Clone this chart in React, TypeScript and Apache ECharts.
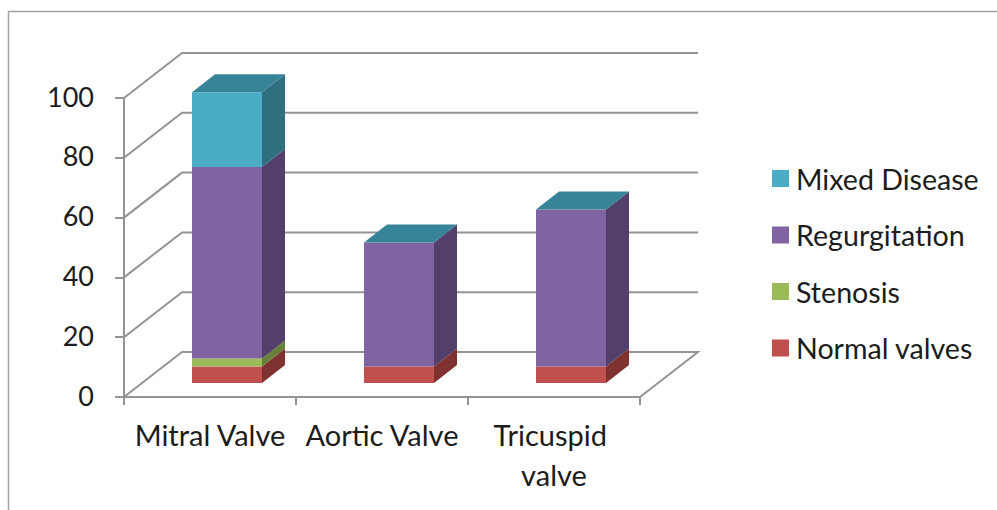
import React, { useEffect, useRef } from "react";
import * as echarts from "echarts";

const categories = ["Mitral Valve", "Aortic Valve", "Tricuspid valve"];
const normalValves = [5.5, 5.5, 5.5];
const stenosis = [2.7, 0, 0];
const regurgitation = [64, 41.5, 52.5];
const mixedDisease = [25, 0, 0];
const valueTicks = [0, 20, 40, 60, 80, 100];
const legendOrder = ["Mixed Disease", "Regurgitation", "Stenosis", "Normal valves"];

const FONT = "Lato";
const TEXT = "#1c1c1c";
const GRID_LINE = "#949494";

// Pixel offsets of the oblique projection: whole floor depth, gap in front of a bar, bar depth.
const FLOOR_DEPTH = [58, -45];
const BAR_FRONT = [17, -14];
const BAR_DEPTH = [23, -18];
const BAR_RATIO = 0.407;

type Shade = { front: string; side: string; top: string };

const shades: Record<string, Shade> = {
  normal: { front: "#C0504D", side: "#7F322F", top: "#9A403D" },
  stenosis: { front: "#9BBB59", side: "#67803A", top: "#7C9647" },
  regurgitation: { front: "#8064A2", side: "#533F6C", top: "#664F82" },
  mixed: { front: "#4BACC6", side: "#2F6F80", top: "#378397" },
};

const withBase = (values: number[], bases: number[][]) =>
  values.map((v, i) => [i, bases.reduce((sum, b) => sum + b[i], 0), v]);

// One stacked segment: front and side faces, plus the cap when asked for.
const barSegment = (shade: Shade, withTop: boolean) => (_params: any, api: any) => {
  const idx = api.value(0);
  const base = api.value(1);
  const val = api.value(2);
  const low = api.coord([idx, base]);
  const high = api.coord([idx, base + val]);
  const w = api.size([1, 0])[0] * BAR_RATIO;
  const l = low[0] + BAR_FRONT[0] - w / 2;
  const r = l + w;
  const yb = low[1] + BAR_FRONT[1];
  const yt = high[1] + BAR_FRONT[1];
  const [dx, dy] = BAR_DEPTH;
  const children: any[] = [];
  if (val > 0) {
    children.push({
      type: "polygon",
      shape: { points: [[l, yb], [r, yb], [r, yt], [l, yt]] },
      style: { fill: shade.front },
    });
    children.push({
      type: "polygon",
      shape: { points: [[r, yb], [r + dx, yb + dy], [r + dx, yt + dy], [r, yt]] },
      style: { fill: shade.side },
    });
  }
  if (withTop) {
    children.push({
      type: "polygon",
      shape: { points: [[l, yt], [r, yt], [r + dx, yt + dy], [l + dx, yt + dy]] },
      style: { fill: shade.top },
    });
  }
  return { type: "group", children };
};

// Side-wall diagonals and back-wall lines for each value tick, with the floor outline at zero.
const wallLines = (_params: any, api: any) => {
  const v = api.value(1);
  const band = api.size([1, 0])[0];
  const first = api.coord([0, v]);
  const last = api.coord([categories.length - 1, v]);
  const x0 = first[0] - band / 2;
  const x1 = last[0] + band / 2;
  const y = first[1];
  const [dx, dy] = FLOOR_DEPTH;
  const points = [[x0, y], [x0 + dx, y + dy], [x1 + dx, y + dy]];
  if (v === 0) points.push([x1, y]);
  return {
    type: "polyline",
    shape: { points },
    style: { stroke: GRID_LINE, lineWidth: 2, fill: "none" },
  };
};

const segmentSeries = (name: string, data: number[][], shade: Shade, withTop = false) => ({
  name,
  type: "custom",
  data,
  encode: { x: 0, y: [1, 2] },
  itemStyle: { color: shade.front },
  renderItem: barSegment(shade, withTop),
  z: 3,
});

export default function App() {
  const ref = useRef<HTMLDivElement>(null);

  useEffect(() => {
    const chart = echarts.init(ref.current, undefined, { renderer: "svg" });
    chart.setOption({
      animation: false,
      backgroundColor: "#ffffff",
      textStyle: { fontFamily: FONT },
      grid: { left: 124, right: 357, top: 98, bottom: 113 },
      xAxis: {
        type: "category",
        data: categories,
        axisLine: { lineStyle: { color: GRID_LINE, width: 2 } },
        axisTick: { show: true, alignWithLabel: false, length: 8, lineStyle: { color: GRID_LINE, width: 2 } },
        axisLabel: {
          color: TEXT,
          fontFamily: FONT,
          fontSize: 29,
          lineHeight: 40,
          margin: 17,
          interval: 0,
          width: 172,
          overflow: "break",
        },
      },
      yAxis: {
        type: "value",
        min: 0,
        max: 100,
        interval: 20,
        splitLine: { show: false },
        axisLine: { show: true, lineStyle: { color: GRID_LINE, width: 2 } },
        axisTick: { show: true, length: 9, lineStyle: { color: GRID_LINE, width: 2 } },
        axisLabel: {
          margin: 30,
          formatter: "{n|{value}}",
          rich: { n: { color: TEXT, fontFamily: FONT, fontSize: 27, padding: [0, 0, 4, 0] } },
        },
      },
      legend: {
        orient: "vertical",
        left: 767,
        top: 159,
        itemWidth: 17,
        itemHeight: 17,
        itemGap: 27.5,
        icon: "rect",
        selectedMode: false,
        data: legendOrder,
        textStyle: { color: TEXT, fontFamily: FONT, fontSize: 28.6, padding: [0, 0, 0, 2] },
      },
      graphic: [
        {
          type: "polyline",
          shape: { points: [[8.5, 510], [8.5, 11.5], [997, 11.5]] },
          style: { stroke: "#a2a2a2", lineWidth: 1.5, fill: "none" },
          silent: true,
        },
      ],
      series: [
        {
          type: "custom",
          data: valueTicks.map((v) => [0, v]),
          encode: { x: 0, y: 1 },
          renderItem: wallLines,
          silent: true,
          z: 1,
        },
        segmentSeries("Normal valves", withBase(normalValves, []), shades.normal),
        segmentSeries("Stenosis", withBase(stenosis, [normalValves]), shades.stenosis),
        segmentSeries("Regurgitation", withBase(regurgitation, [normalValves, stenosis]), shades.regurgitation),
        segmentSeries("Mixed Disease", withBase(mixedDisease, [normalValves, stenosis, regurgitation]), shades.mixed, true),
      ],
    });
    return () => chart.dispose();
  }, []);

  return <div ref={ref} style={{ position: "fixed", left: 0, top: 0, width: 997, height: 510 }} />;
}
